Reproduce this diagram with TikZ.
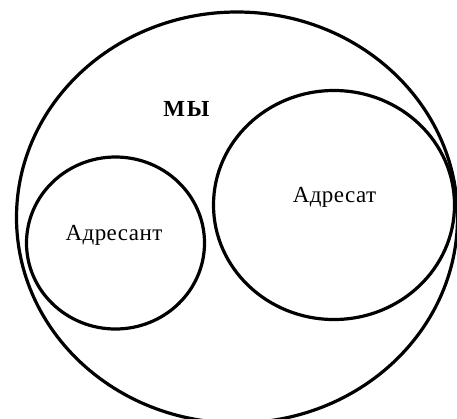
\documentclass[tikz,border=0pt]{standalone}
\usepackage{fontspec}
\setmainfont{Liberation Serif}[LetterSpace=2]
\newfontfamily\boldspaced{Liberation Serif}[LetterSpace=8]
\usetikzlibrary{shapes.geometric}
\begin{document}
\begin{tikzpicture}[x=1pt,y=-1pt,
  ring/.style={draw=black, line width=3.2pt, ellipse, inner sep=0pt, outer sep=0pt},
  lbl/.style={font=\fontsize{23}{26}\selectfont, inner sep=0pt, anchor=base}]
\useasboundingbox (0,0) rectangle (457,418);
\node[ring, minimum width=441, minimum height=411] (we) at (237,217.5) {};
\node[ring, minimum width=178, minimum height=172] (sender) at (115.5,243) {};
\node[ring, minimum width=241, minimum height=229] (receiver) at (334,205) {};
\node[lbl, font=\boldspaced\fontsize{23}{26}\selectfont\bfseries] (welbl) at (186.5,116) {МЫ};
\node[lbl] (senderlbl) at (114,240) {Адресант};
\node[lbl] (receiverlbl) at (334.5,202) {Адресат};
\end{tikzpicture}
\end{document}
